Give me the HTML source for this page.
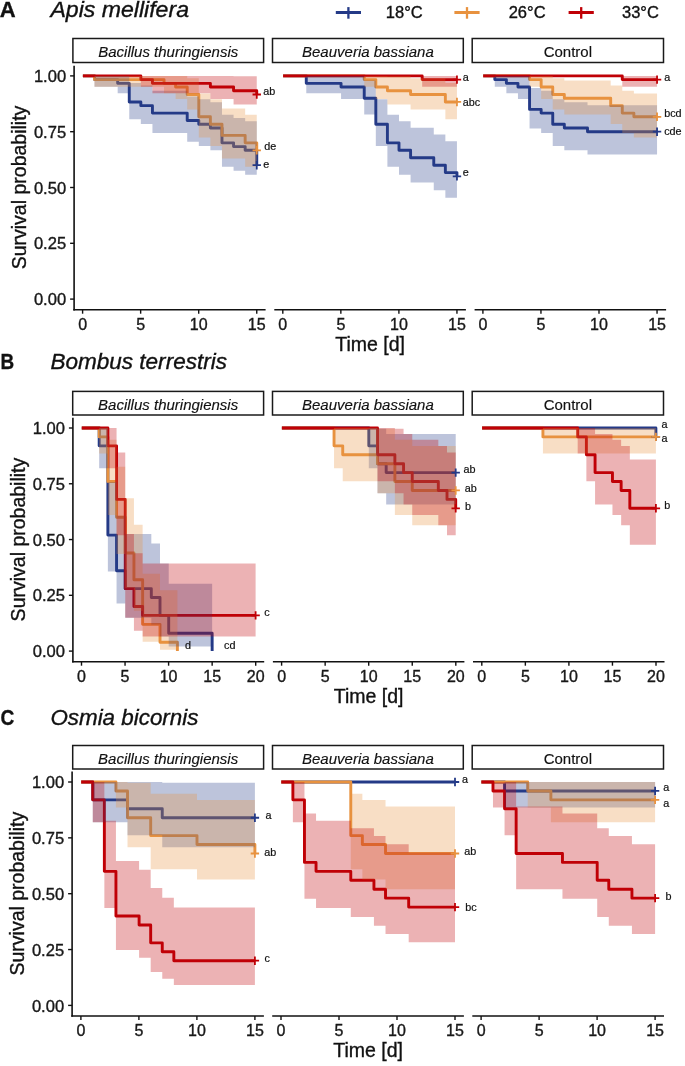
<!DOCTYPE html>
<html><head><meta charset="utf-8"><style>
html,body{margin:0;padding:0;background:#fff;}
svg{display:block;font-family:"Liberation Sans",sans-serif;will-change:transform;}
text{stroke:currentColor;stroke-width:0.35px;}
.t{color:#1a1a1a;fill:#1a1a1a;}
</style></head><body>
<svg width="685" height="1066" viewBox="0 0 685 1066" color="#111" fill="#111">
<rect width="685" height="1066" fill="#fff"/>
<path d="M82.9 75.9 L94.49 75.9 L94.49 79.62 L117.67 79.62 L117.67 83.34 L129.26 83.34 L129.26 101.94 L140.85 101.94 L140.85 105.66 L152.44 105.66 L152.44 113.1 L187.21 113.1 L187.21 120.54 L198.8 120.54 L198.8 124.26 L210.39 124.26 L210.39 127.98 L221.98 127.98 L221.98 142.86 L233.57 142.86 L233.57 146.58 L245.16 146.58 L245.16 150.3 L256.75 150.3 L256.75 165.18" fill="none" stroke="#243a87" stroke-width="2.9" stroke-linejoin="round"/>
<path d="M82.9 75.9 L94.49 75.9 L94.49 79.62 L164.03 79.62 L164.03 83.34 L175.62 83.34 L175.62 87.06 L187.21 87.06 L187.21 94.5 L198.8 94.5 L198.8 116.82 L210.39 116.82 L210.39 124.26 L221.98 124.26 L221.98 135.42 L245.16 135.42 L245.16 142.86 L256.75 142.86 L256.75 150.3" fill="none" stroke="#e8923f" stroke-width="2.9" stroke-linejoin="round"/>
<path d="M82.9 75.9 L140.85 75.9 L140.85 79.62 L152.44 79.62 L152.44 83.34 L210.39 83.34 L210.39 87.06 L233.57 87.06 L233.57 90.78 L256.75 90.78 L256.75 94.5" fill="none" stroke="#c00006" stroke-width="2.9" stroke-linejoin="round"/>
<path d="M94.49 75.9 L117.67 75.9 L117.67 75.9 L129.26 75.9 L129.26 82.95 L140.85 82.95 L140.85 85.48 L152.44 85.48 L152.44 90.82 L187.21 90.82 L187.21 96.46 L198.8 96.46 L198.8 99.37 L210.39 99.37 L210.39 102.35 L221.98 102.35 L221.98 114.71 L233.57 114.71 L233.57 117.91 L245.16 117.91 L245.16 121.15 L256.75 121.15 L256.75 174.68 L245.16 174.68 L245.16 170.71 L233.57 170.71 L233.57 166.71 L221.98 166.71 L221.98 150.27 L210.39 150.27 L210.39 146.05 L198.8 146.05 L198.8 141.76 L187.21 141.76 L187.21 133 L152.44 133 L152.44 123.94 L140.85 123.94 L140.85 119.26 L129.26 119.26 L129.26 93.24 L117.67 93.24 L117.67 86.73 L94.49 86.73Z" fill="#243a87" fill-opacity="0.3"/>
<path d="M94.49 75.9 L164.03 75.9 L164.03 75.9 L175.62 75.9 L175.62 75.9 L187.21 75.9 L187.21 78.28 L198.8 78.28 L198.8 93.6 L210.39 93.6 L210.39 99.37 L221.98 99.37 L221.98 108.44 L245.16 108.44 L245.16 114.71 L256.75 114.71 L256.75 166.71 L245.16 166.71 L245.16 158.58 L221.98 158.58 L221.98 146.05 L210.39 146.05 L210.39 137.41 L198.8 137.41 L198.8 109.53 L187.21 109.53 L187.21 99.02 L175.62 99.02 L175.62 93.24 L164.03 93.24 L164.03 86.73 L94.49 86.73Z" fill="#e8923f" fill-opacity="0.3"/>
<path d="M140.85 75.9 L152.44 75.9 L152.44 75.9 L210.39 75.9 L210.39 75.9 L233.57 75.9 L233.57 76.21 L256.75 76.21 L256.75 104.4 L233.57 104.4 L233.57 99.02 L210.39 99.02 L210.39 93.24 L152.44 93.24 L152.44 86.73 L140.85 86.73Z" fill="#c00006" fill-opacity="0.3"/>
<path d="M252.55 165.18 H260.95 M256.75 160.98 V169.38" stroke="#243a87" stroke-width="1.8" fill="none"/>
<path d="M252.55 150.3 H260.95 M256.75 146.1 V154.5" stroke="#e8923f" stroke-width="1.8" fill="none"/>
<path d="M252.55 94.5 H260.95 M256.75 90.3 V98.7" stroke="#c00006" stroke-width="1.8" fill="none"/>
<path d="M283.1 75.9 L306.28 75.9 L306.28 83.34 L341.05 83.34 L341.05 87.06 L364.23 87.06 L364.23 98.22 L375.82 98.22 L375.82 124.26 L387.41 124.26 L387.41 142.86 L399 142.86 L399 150.3 L410.59 150.3 L410.59 157.74 L433.77 157.74 L433.77 165.18 L445.36 165.18 L445.36 172.62 L456.95 172.62 L456.95 176.34" fill="none" stroke="#243a87" stroke-width="2.9" stroke-linejoin="round"/>
<path d="M283.1 75.9 L364.23 75.9 L364.23 79.62 L375.82 79.62 L375.82 87.06 L387.41 87.06 L387.41 90.78 L410.59 90.78 L410.59 94.5 L445.36 94.5 L445.36 101.94 L456.95 101.94" fill="none" stroke="#e8923f" stroke-width="2.9" stroke-linejoin="round"/>
<path d="M283.1 75.9 L422.18 75.9 L422.18 79.62 L456.95 79.62" fill="none" stroke="#c00006" stroke-width="2.9" stroke-linejoin="round"/>
<path d="M306.28 75.9 L341.05 75.9 L341.05 75.9 L364.23 75.9 L364.23 80.54 L375.82 80.54 L375.82 99.37 L387.41 99.37 L387.41 114.71 L399 114.71 L399 121.15 L410.59 121.15 L410.59 127.73 L433.77 127.73 L433.77 134.45 L445.36 134.45 L445.36 141.3 L456.95 141.3 L456.95 197.73 L445.36 197.73 L445.36 190.18 L433.77 190.18 L433.77 182.5 L410.59 182.5 L410.59 174.68 L399 174.68 L399 166.71 L387.41 166.71 L387.41 146.05 L375.82 146.05 L375.82 114.47 L364.23 114.47 L364.23 99.02 L341.05 99.02 L341.05 93.24 L306.28 93.24Z" fill="#243a87" fill-opacity="0.3"/>
<path d="M364.23 75.9 L375.82 75.9 L375.82 75.9 L387.41 75.9 L387.41 76.21 L410.59 76.21 L410.59 78.28 L445.36 78.28 L445.36 82.95 L456.95 82.95 L456.95 119.26 L445.36 119.26 L445.36 109.53 L410.59 109.53 L410.59 104.4 L387.41 104.4 L387.41 99.02 L375.82 99.02 L375.82 86.73 L364.23 86.73Z" fill="#e8923f" fill-opacity="0.3"/>
<path d="M422.18 75.9 L456.95 75.9 L456.95 86.73 L422.18 86.73Z" fill="#c00006" fill-opacity="0.3"/>
<path d="M452.75 176.34 H461.15 M456.95 172.14 V180.54" stroke="#243a87" stroke-width="1.8" fill="none"/>
<path d="M452.75 101.94 H461.15 M456.95 97.74 V106.14" stroke="#e8923f" stroke-width="1.8" fill="none"/>
<path d="M452.75 79.62 H461.15 M456.95 75.42 V83.82" stroke="#c00006" stroke-width="1.8" fill="none"/>
<path d="M483.2 75.9 L494.79 75.9 L494.79 79.62 L506.38 79.62 L506.38 83.34 L517.97 83.34 L517.97 87.06 L529.56 87.06 L529.56 109.38 L541.15 109.38 L541.15 113.1 L552.74 113.1 L552.74 124.26 L564.33 124.26 L564.33 127.98 L587.51 127.98 L587.51 131.7 L657.05 131.7" fill="none" stroke="#243a87" stroke-width="2.9" stroke-linejoin="round"/>
<path d="M483.2 75.9 L529.56 75.9 L529.56 79.62 L541.15 79.62 L541.15 87.06 L552.74 87.06 L552.74 94.5 L564.33 94.5 L564.33 98.22 L610.69 98.22 L610.69 105.66 L622.28 105.66 L622.28 113.1 L633.87 113.1 L633.87 116.82 L657.05 116.82" fill="none" stroke="#e8923f" stroke-width="2.9" stroke-linejoin="round"/>
<path d="M483.2 75.9 L622.28 75.9 L622.28 79.62 L657.05 79.62" fill="none" stroke="#c00006" stroke-width="2.9" stroke-linejoin="round"/>
<path d="M494.79 75.9 L506.38 75.9 L506.38 75.9 L517.97 75.9 L517.97 75.9 L529.56 75.9 L529.56 88.1 L541.15 88.1 L541.15 90.82 L552.74 90.82 L552.74 99.37 L564.33 99.37 L564.33 102.35 L587.51 102.35 L587.51 105.37 L657.05 105.37 L657.05 154.45 L587.51 154.45 L587.51 150.27 L564.33 150.27 L564.33 146.05 L552.74 146.05 L552.74 133 L541.15 133 L541.15 128.51 L529.56 128.51 L529.56 99.02 L517.97 99.02 L517.97 93.24 L506.38 93.24 L506.38 86.73 L494.79 86.73Z" fill="#243a87" fill-opacity="0.3"/>
<path d="M529.56 75.9 L541.15 75.9 L541.15 75.9 L552.74 75.9 L552.74 78.28 L564.33 78.28 L564.33 80.54 L610.69 80.54 L610.69 85.48 L622.28 85.48 L622.28 90.82 L633.87 90.82 L633.87 93.6 L657.05 93.6 L657.05 137.41 L633.87 137.41 L633.87 133 L622.28 133 L622.28 123.94 L610.69 123.94 L610.69 114.47 L564.33 114.47 L564.33 109.53 L552.74 109.53 L552.74 99.02 L541.15 99.02 L541.15 86.73 L529.56 86.73Z" fill="#e8923f" fill-opacity="0.3"/>
<path d="M622.28 75.9 L657.05 75.9 L657.05 86.73 L622.28 86.73Z" fill="#c00006" fill-opacity="0.3"/>
<path d="M652.85 131.7 H661.25 M657.05 127.5 V135.9" stroke="#243a87" stroke-width="1.8" fill="none"/>
<path d="M652.85 116.82 H661.25 M657.05 112.62 V121.02" stroke="#e8923f" stroke-width="1.8" fill="none"/>
<path d="M652.85 79.62 H661.25 M657.05 75.42 V83.82" stroke="#c00006" stroke-width="1.8" fill="none"/>
<path d="M81.8 428 L99.18 428 L99.18 445.85 L107.87 445.85 L107.87 535.09 L116.56 535.09 L116.56 570.78 L125.25 570.78 L125.25 588.63 L151.32 588.63 L151.32 597.56 L160.01 597.56 L160.01 615.4 L168.7 615.4 L168.7 633.25 L212.15 633.25 L212.15 651.1" fill="none" stroke="#243a87" stroke-width="2.9" stroke-linejoin="round"/>
<path d="M81.8 428 L99.18 428 L99.18 436.92 L107.87 436.92 L107.87 481.54 L116.56 481.54 L116.56 517.24 L125.25 517.24 L125.25 552.94 L133.94 552.94 L133.94 579.71 L142.63 579.71 L142.63 624.33 L160.01 624.33 L160.01 642.18 L177.39 642.18 L177.39 651.1" fill="none" stroke="#e8923f" stroke-width="2.9" stroke-linejoin="round"/>
<path d="M81.8 428 L107.87 428 L107.87 445.85 L116.56 445.85 L116.56 499.39 L125.25 499.39 L125.25 588.63 L133.94 588.63 L133.94 606.48 L142.63 606.48 L142.63 615.4 L255.6 615.4" fill="none" stroke="#c00006" stroke-width="2.9" stroke-linejoin="round"/>
<path d="M99.18 428 L107.87 428 L107.87 482.03 L116.56 482.03 L116.56 515.65 L125.25 515.65 L125.25 533.98 L151.32 533.98 L151.32 543.54 L160.01 543.54 L160.01 563.46 L168.7 563.46 L168.7 583.66 L212.15 583.66 L212.15 646.38 L168.7 646.38 L168.7 636.56 L160.01 636.56 L160.01 624.45 L151.32 624.45 L151.32 617.78 L125.25 617.78 L125.25 603.48 L116.56 603.48 L116.56 571.49 L107.87 571.49 L107.87 468.25 L99.18 468.25Z" fill="#243a87" fill-opacity="0.3"/>
<path d="M99.18 428 L107.87 428 L107.87 439.76 L116.56 439.76 L116.56 466.75 L125.25 466.75 L125.25 498.34 L133.94 498.34 L133.94 524.68 L142.63 524.68 L142.63 573.71 L160.01 573.71 L160.01 590.21 L177.39 590.21 L177.39 649.79 L160.01 649.79 L160.01 641.84 L142.63 641.84 L142.63 610.78 L133.94 610.78 L133.94 588.02 L125.25 588.02 L125.25 553.9 L116.56 553.9 L116.56 515.07 L107.87 515.07 L107.87 453.39 L99.18 453.39Z" fill="#e8923f" fill-opacity="0.3"/>
<path d="M107.87 428 L116.56 428 L116.56 452.59 L125.25 452.59 L125.25 533.98 L133.94 533.98 L133.94 553.37 L142.63 553.37 L142.63 563.46 L255.6 563.46 L255.6 636.56 L142.63 636.56 L142.63 630.73 L133.94 630.73 L133.94 617.78 L125.25 617.78 L125.25 535.16 L116.56 535.16 L116.56 468.25 L107.87 468.25Z" fill="#c00006" fill-opacity="0.3"/>
<path d="M251.4 615.4 H259.8 M255.6 611.2 V619.6" stroke="#c00006" stroke-width="1.8" fill="none"/>
<path d="M281.9 428 L368.8 428 L368.8 445.85 L377.49 445.85 L377.49 463.7 L386.18 463.7 L386.18 472.62 L455.7 472.62" fill="none" stroke="#243a87" stroke-width="2.9" stroke-linejoin="round"/>
<path d="M281.9 428 L334.04 428 L334.04 445.85 L342.73 445.85 L342.73 454.77 L377.49 454.77 L377.49 463.7 L394.87 463.7 L394.87 481.54 L412.25 481.54 L412.25 490.47 L455.7 490.47" fill="none" stroke="#e8923f" stroke-width="2.9" stroke-linejoin="round"/>
<path d="M281.9 428 L377.49 428 L377.49 454.77 L394.87 454.77 L394.87 463.7 L403.56 463.7 L403.56 472.62 L412.25 472.62 L412.25 481.54 L438.32 481.54 L438.32 490.47 L447.01 490.47 L447.01 499.39 L455.7 499.39 L455.7 508.32" fill="none" stroke="#c00006" stroke-width="2.9" stroke-linejoin="round"/>
<path d="M368.8 428 L377.49 428 L377.49 428.73 L386.18 428.73 L386.18 433.98 L455.7 433.98 L455.7 504.39 L386.18 504.39 L386.18 493.16 L377.49 493.16 L377.49 468.25 L368.8 468.25Z" fill="#243a87" fill-opacity="0.3"/>
<path d="M334.04 428 L342.73 428 L342.73 428 L377.49 428 L377.49 428.73 L394.87 428.73 L394.87 439.76 L412.25 439.76 L412.25 445.99 L455.7 445.99 L455.7 525.3 L412.25 525.3 L412.25 515.07 L394.87 515.07 L394.87 493.16 L377.49 493.16 L377.49 481.23 L342.73 481.23 L342.73 468.25 L334.04 468.25Z" fill="#e8923f" fill-opacity="0.3"/>
<path d="M377.49 428 L394.87 428 L394.87 428.73 L403.56 428.73 L403.56 433.98 L412.25 433.98 L412.25 439.76 L438.32 439.76 L438.32 445.99 L447.01 445.99 L447.01 452.59 L455.7 452.59 L455.7 535.16 L447.01 535.16 L447.01 525.3 L438.32 525.3 L438.32 515.07 L412.25 515.07 L412.25 504.39 L403.56 504.39 L403.56 493.16 L394.87 493.16 L394.87 481.23 L377.49 481.23Z" fill="#c00006" fill-opacity="0.3"/>
<path d="M451.5 472.62 H459.9 M455.7 468.42 V476.82" stroke="#243a87" stroke-width="1.8" fill="none"/>
<path d="M451.5 490.47 H459.9 M455.7 486.27 V494.67" stroke="#e8923f" stroke-width="1.8" fill="none"/>
<path d="M451.5 508.32 H459.9 M455.7 504.12 V512.52" stroke="#c00006" stroke-width="1.8" fill="none"/>
<path d="M482.1 428 L655.9 428 L655.9 436.92" fill="none" stroke="#243a87" stroke-width="2.9" stroke-linejoin="round"/>
<path d="M482.1 428 L542.93 428 L542.93 436.92 L655.9 436.92" fill="none" stroke="#e8923f" stroke-width="2.9" stroke-linejoin="round"/>
<path d="M482.1 428 L577.69 428 L577.69 436.92 L586.38 436.92 L586.38 454.77 L595.07 454.77 L595.07 472.62 L612.45 472.62 L612.45 481.54 L621.14 481.54 L621.14 490.47 L629.83 490.47 L629.83 508.32 L655.9 508.32" fill="none" stroke="#c00006" stroke-width="2.9" stroke-linejoin="round"/>
<path d="M542.93 428 L655.9 428 L655.9 453.39 L542.93 453.39Z" fill="#e8923f" fill-opacity="0.3"/>
<path d="M577.69 428 L586.38 428 L586.38 428 L595.07 428 L595.07 433.98 L612.45 433.98 L612.45 439.76 L621.14 439.76 L621.14 445.99 L629.83 445.99 L629.83 459.52 L655.9 459.52 L655.9 544.69 L629.83 544.69 L629.83 525.3 L621.14 525.3 L621.14 515.07 L612.45 515.07 L612.45 504.39 L595.07 504.39 L595.07 481.23 L586.38 481.23 L586.38 453.39 L577.69 453.39Z" fill="#c00006" fill-opacity="0.3"/>
<path d="M651.7 436.92 H660.1 M655.9 432.72 V441.12" stroke="#243a87" stroke-width="1.8" fill="none"/>
<path d="M651.7 436.92 H660.1 M655.9 432.72 V441.12" stroke="#e8923f" stroke-width="1.8" fill="none"/>
<path d="M651.7 508.32 H660.1 M655.9 504.12 V512.52" stroke="#c00006" stroke-width="1.8" fill="none"/>
<path d="M81.2 782 L92.78 782 L92.78 799.87 L127.52 799.87 L127.52 808.81 L162.26 808.81 L162.26 817.74 L254.9 817.74" fill="none" stroke="#243a87" stroke-width="2.9" stroke-linejoin="round"/>
<path d="M81.2 782 L115.94 782 L115.94 790.94 L127.52 790.94 L127.52 817.74 L150.68 817.74 L150.68 835.62 L197 835.62 L197 844.55 L254.9 844.55 L254.9 853.49" fill="none" stroke="#e8923f" stroke-width="2.9" stroke-linejoin="round"/>
<path d="M81.2 782 L92.78 782 L92.78 799.87 L104.36 799.87 L104.36 871.36 L115.94 871.36 L115.94 916.04 L139.1 916.04 L139.1 924.98 L150.68 924.98 L150.68 942.85 L162.26 942.85 L162.26 951.78 L173.84 951.78 L173.84 960.72 L254.9 960.72" fill="none" stroke="#c00006" stroke-width="2.9" stroke-linejoin="round"/>
<path d="M92.78 782 L127.52 782 L127.52 782 L162.26 782 L162.26 782.73 L254.9 782.73 L254.9 847.25 L162.26 847.25 L162.26 835.3 L127.52 835.3 L127.52 822.31 L92.78 822.31Z" fill="#243a87" fill-opacity="0.3"/>
<path d="M115.94 782 L127.52 782 L127.52 782.73 L150.68 782.73 L150.68 793.78 L197 793.78 L197 800.01 L254.9 800.01 L254.9 879.43 L197 879.43 L197 869.18 L150.68 869.18 L150.68 847.25 L127.52 847.25 L127.52 807.43 L115.94 807.43Z" fill="#e8923f" fill-opacity="0.3"/>
<path d="M92.78 782 L104.36 782 L104.36 820.8 L115.94 820.8 L115.94 860.97 L139.1 860.97 L139.1 869.76 L150.68 869.76 L150.68 888.12 L162.26 888.12 L162.26 897.69 L173.84 897.69 L173.84 907.54 L254.9 907.54 L254.9 985 L173.84 985 L173.84 978.71 L162.26 978.71 L162.26 972.04 L150.68 972.04 L150.68 957.71 L139.1 957.71 L139.1 950.11 L115.94 950.11 L115.94 908.07 L104.36 908.07 L104.36 822.31 L92.78 822.31Z" fill="#c00006" fill-opacity="0.3"/>
<path d="M250.7 817.74 H259.1 M254.9 813.54 V821.94" stroke="#243a87" stroke-width="1.8" fill="none"/>
<path d="M250.7 853.49 H259.1 M254.9 849.29 V857.69" stroke="#e8923f" stroke-width="1.8" fill="none"/>
<path d="M250.7 960.72 H259.1 M254.9 956.52 V964.92" stroke="#c00006" stroke-width="1.8" fill="none"/>
<path d="M281.3 782 L455 782" fill="none" stroke="#243a87" stroke-width="2.9" stroke-linejoin="round"/>
<path d="M281.3 782 L350.78 782 L350.78 835.62 L362.36 835.62 L362.36 844.55 L385.52 844.55 L385.52 853.49 L455 853.49" fill="none" stroke="#e8923f" stroke-width="2.9" stroke-linejoin="round"/>
<path d="M281.3 782 L292.88 782 L292.88 799.87 L304.46 799.87 L304.46 862.42 L316.04 862.42 L316.04 871.36 L350.78 871.36 L350.78 880.3 L373.94 880.3 L373.94 889.23 L385.52 889.23 L385.52 898.17 L408.68 898.17 L408.68 907.1 L455 907.1" fill="none" stroke="#c00006" stroke-width="2.9" stroke-linejoin="round"/>
<path d="M350.78 793.78 L362.36 793.78 L362.36 800.01 L385.52 800.01 L385.52 806.62 L455 806.62 L455 889.31 L385.52 889.31 L385.52 879.43 L362.36 879.43 L362.36 869.18 L350.78 869.18Z" fill="#e8923f" fill-opacity="0.3"/>
<path d="M292.88 782 L304.46 782 L304.46 813.56 L316.04 813.56 L316.04 820.8 L350.78 820.8 L350.78 828.32 L373.94 828.32 L373.94 836.1 L385.52 836.1 L385.52 844.14 L408.68 844.14 L408.68 852.43 L455 852.43 L455 942.23 L408.68 942.23 L408.68 934.09 L385.52 934.09 L385.52 925.69 L373.94 925.69 L373.94 917.02 L350.78 917.02 L350.78 908.07 L316.04 908.07 L316.04 898.84 L304.46 898.84 L304.46 822.31 L292.88 822.31Z" fill="#c00006" fill-opacity="0.3"/>
<path d="M450.8 782 H459.2 M455 777.8 V786.2" stroke="#243a87" stroke-width="1.8" fill="none"/>
<path d="M450.8 853.49 H459.2 M455 849.29 V857.69" stroke="#e8923f" stroke-width="1.8" fill="none"/>
<path d="M450.8 907.1 H459.2 M455 902.9 V911.3" stroke="#c00006" stroke-width="1.8" fill="none"/>
<path d="M481.4 782 L504.56 782 L504.56 790.94 L655.1 790.94" fill="none" stroke="#243a87" stroke-width="2.9" stroke-linejoin="round"/>
<path d="M481.4 782 L527.72 782 L527.72 790.94 L550.88 790.94 L550.88 799.87 L655.1 799.87" fill="none" stroke="#e8923f" stroke-width="2.9" stroke-linejoin="round"/>
<path d="M481.4 782 L492.98 782 L492.98 790.94 L504.56 790.94 L504.56 808.81 L516.14 808.81 L516.14 853.49 L562.46 853.49 L562.46 862.42 L597.2 862.42 L597.2 880.3 L608.78 880.3 L608.78 889.23 L631.94 889.23 L631.94 898.17 L655.1 898.17" fill="none" stroke="#c00006" stroke-width="2.9" stroke-linejoin="round"/>
<path d="M504.56 782 L655.1 782 L655.1 807.43 L504.56 807.43Z" fill="#243a87" fill-opacity="0.3"/>
<path d="M527.72 782 L550.88 782 L550.88 782 L655.1 782 L655.1 822.31 L550.88 822.31 L550.88 807.43 L527.72 807.43Z" fill="#e8923f" fill-opacity="0.3"/>
<path d="M492.98 782 L504.56 782 L504.56 782 L516.14 782 L516.14 806.62 L562.46 806.62 L562.46 813.56 L597.2 813.56 L597.2 828.32 L608.78 828.32 L608.78 836.1 L631.94 836.1 L631.94 844.14 L655.1 844.14 L655.1 934.09 L631.94 934.09 L631.94 925.69 L608.78 925.69 L608.78 917.02 L597.2 917.02 L597.2 898.84 L562.46 898.84 L562.46 889.31 L516.14 889.31 L516.14 835.3 L504.56 835.3 L504.56 807.43 L492.98 807.43Z" fill="#c00006" fill-opacity="0.3"/>
<path d="M650.9 790.94 H659.3 M655.1 786.74 V795.14" stroke="#243a87" stroke-width="1.8" fill="none"/>
<path d="M650.9 799.87 H659.3 M655.1 795.67 V804.07" stroke="#e8923f" stroke-width="1.8" fill="none"/>
<path d="M650.9 898.17 H659.3 M655.1 893.97 V902.37" stroke="#c00006" stroke-width="1.8" fill="none"/>
<text transform="translate(-0.3 17.1) scale(1.0 1)" font-weight="bold" font-size="22">A</text>
<text x="50.4" y="16.8" font-style="italic" font-size="22" textLength="138.6" lengthAdjust="spacingAndGlyphs">Apis mellifera</text>
<rect x="72.9" y="38.5" width="190.7" height="24" fill="#fff" stroke="#1a1a1a" stroke-width="1.5"/>
<text x="168.25" y="57" font-size="15" text-anchor="middle" style="stroke-width:0.15px" font-style="italic">Bacillus thuringiensis</text>
<rect x="272.5" y="38.5" width="190.8" height="24" fill="#fff" stroke="#1a1a1a" stroke-width="1.5"/>
<text x="367.9" y="57" font-size="15" text-anchor="middle" style="stroke-width:0.15px" font-style="italic">Beauveria bassiana</text>
<rect x="472.2" y="38.5" width="191.3" height="24" fill="#fff" stroke="#1a1a1a" stroke-width="1.5"/>
<text x="567.85" y="57" font-size="15" text-anchor="middle" style="stroke-width:0.15px">Control</text>
<line x1="74.1" y1="65.8" x2="74.1" y2="310.5" stroke="#111" stroke-width="1.6"/>
<line x1="70.1" y1="299.1" x2="74.1" y2="299.1" stroke="#111" stroke-width="1.4"/>
<text x="66.1" y="305.2" font-size="16" text-anchor="end" fill="#1a1a1a" textLength="32.2" lengthAdjust="spacingAndGlyphs">0.00</text>
<line x1="70.1" y1="243.3" x2="74.1" y2="243.3" stroke="#111" stroke-width="1.4"/>
<text x="66.1" y="249.4" font-size="16" text-anchor="end" fill="#1a1a1a" textLength="32.2" lengthAdjust="spacingAndGlyphs">0.25</text>
<line x1="70.1" y1="187.5" x2="74.1" y2="187.5" stroke="#111" stroke-width="1.4"/>
<text x="66.1" y="193.6" font-size="16" text-anchor="end" fill="#1a1a1a" textLength="32.2" lengthAdjust="spacingAndGlyphs">0.50</text>
<line x1="70.1" y1="131.7" x2="74.1" y2="131.7" stroke="#111" stroke-width="1.4"/>
<text x="66.1" y="137.8" font-size="16" text-anchor="end" fill="#1a1a1a" textLength="32.2" lengthAdjust="spacingAndGlyphs">0.75</text>
<line x1="70.1" y1="75.9" x2="74.1" y2="75.9" stroke="#111" stroke-width="1.4"/>
<text x="66.1" y="82" font-size="16" text-anchor="end" fill="#1a1a1a" textLength="32.2" lengthAdjust="spacingAndGlyphs">1.00</text>
<text transform="translate(25.6 187.5) rotate(-90)" font-size="19.5" text-anchor="middle">Survival probability</text>
<line x1="73.3" y1="309.7" x2="265.6" y2="309.7" stroke="#111" stroke-width="1.6"/>
<line x1="82.6" y1="309.7" x2="82.6" y2="313.7" stroke="#111" stroke-width="1.4"/>
<text x="82.6" y="330" font-size="16" text-anchor="middle" fill="#1a1a1a">0</text>
<line x1="140.65" y1="309.7" x2="140.65" y2="313.7" stroke="#111" stroke-width="1.4"/>
<text x="140.65" y="330" font-size="16" text-anchor="middle" fill="#1a1a1a">5</text>
<line x1="198.7" y1="309.7" x2="198.7" y2="313.7" stroke="#111" stroke-width="1.4"/>
<text x="198.7" y="330" font-size="16" text-anchor="middle" fill="#1a1a1a">10</text>
<line x1="256.75" y1="309.7" x2="256.75" y2="313.7" stroke="#111" stroke-width="1.4"/>
<text x="256.75" y="330" font-size="16" text-anchor="middle" fill="#1a1a1a">15</text>
<line x1="274.3" y1="309.7" x2="465.9" y2="309.7" stroke="#111" stroke-width="1.6"/>
<line x1="282.8" y1="309.7" x2="282.8" y2="313.7" stroke="#111" stroke-width="1.4"/>
<text x="282.8" y="330" font-size="16" text-anchor="middle" fill="#1a1a1a">0</text>
<line x1="340.85" y1="309.7" x2="340.85" y2="313.7" stroke="#111" stroke-width="1.4"/>
<text x="340.85" y="330" font-size="16" text-anchor="middle" fill="#1a1a1a">5</text>
<line x1="398.9" y1="309.7" x2="398.9" y2="313.7" stroke="#111" stroke-width="1.4"/>
<text x="398.9" y="330" font-size="16" text-anchor="middle" fill="#1a1a1a">10</text>
<line x1="456.95" y1="309.7" x2="456.95" y2="313.7" stroke="#111" stroke-width="1.4"/>
<text x="456.95" y="330" font-size="16" text-anchor="middle" fill="#1a1a1a">15</text>
<line x1="474.6" y1="309.7" x2="666.1" y2="309.7" stroke="#111" stroke-width="1.6"/>
<line x1="482.9" y1="309.7" x2="482.9" y2="313.7" stroke="#111" stroke-width="1.4"/>
<text x="482.9" y="330" font-size="16" text-anchor="middle" fill="#1a1a1a">0</text>
<line x1="540.95" y1="309.7" x2="540.95" y2="313.7" stroke="#111" stroke-width="1.4"/>
<text x="540.95" y="330" font-size="16" text-anchor="middle" fill="#1a1a1a">5</text>
<line x1="599" y1="309.7" x2="599" y2="313.7" stroke="#111" stroke-width="1.4"/>
<text x="599" y="330" font-size="16" text-anchor="middle" fill="#1a1a1a">10</text>
<line x1="657.05" y1="309.7" x2="657.05" y2="313.7" stroke="#111" stroke-width="1.4"/>
<text x="657.05" y="330" font-size="16" text-anchor="middle" fill="#1a1a1a">15</text>
<text x="370.1" y="350.6" font-size="19.5" text-anchor="middle">Time [d]</text>
<text transform="translate(0.6 369.3) scale(0.86 1)" font-weight="bold" font-size="22">B</text>
<text x="50.4" y="369.0" font-style="italic" font-size="22" textLength="176.6" lengthAdjust="spacingAndGlyphs">Bombus terrestris</text>
<rect x="72.7" y="391.4" width="190.9" height="23.6" fill="#fff" stroke="#1a1a1a" stroke-width="1.5"/>
<text x="168.15" y="409.5" font-size="15" text-anchor="middle" style="stroke-width:0.15px" font-style="italic">Bacillus thuringiensis</text>
<rect x="272.5" y="391.4" width="190.8" height="23.6" fill="#fff" stroke="#1a1a1a" stroke-width="1.5"/>
<text x="367.9" y="409.5" font-size="15" text-anchor="middle" style="stroke-width:0.15px" font-style="italic">Beauveria bassiana</text>
<rect x="472.2" y="391.4" width="191.3" height="23.6" fill="#fff" stroke="#1a1a1a" stroke-width="1.5"/>
<text x="567.85" y="409.5" font-size="15" text-anchor="middle" style="stroke-width:0.15px">Control</text>
<line x1="72.9" y1="417.7" x2="72.9" y2="662.5" stroke="#111" stroke-width="1.6"/>
<line x1="68.9" y1="651.1" x2="72.9" y2="651.1" stroke="#111" stroke-width="1.4"/>
<text x="64.9" y="657.2" font-size="16" text-anchor="end" fill="#1a1a1a" textLength="32.2" lengthAdjust="spacingAndGlyphs">0.00</text>
<line x1="68.9" y1="595.33" x2="72.9" y2="595.33" stroke="#111" stroke-width="1.4"/>
<text x="64.9" y="601.43" font-size="16" text-anchor="end" fill="#1a1a1a" textLength="32.2" lengthAdjust="spacingAndGlyphs">0.25</text>
<line x1="68.9" y1="539.55" x2="72.9" y2="539.55" stroke="#111" stroke-width="1.4"/>
<text x="64.9" y="545.65" font-size="16" text-anchor="end" fill="#1a1a1a" textLength="32.2" lengthAdjust="spacingAndGlyphs">0.50</text>
<line x1="68.9" y1="483.77" x2="72.9" y2="483.77" stroke="#111" stroke-width="1.4"/>
<text x="64.9" y="489.88" font-size="16" text-anchor="end" fill="#1a1a1a" textLength="32.2" lengthAdjust="spacingAndGlyphs">0.75</text>
<line x1="68.9" y1="428" x2="72.9" y2="428" stroke="#111" stroke-width="1.4"/>
<text x="64.9" y="434.1" font-size="16" text-anchor="end" fill="#1a1a1a" textLength="32.2" lengthAdjust="spacingAndGlyphs">1.00</text>
<text transform="translate(24.5 539.55) rotate(-90)" font-size="19.5" text-anchor="middle">Survival probability</text>
<line x1="72.1" y1="661.7" x2="264.2" y2="661.7" stroke="#111" stroke-width="1.6"/>
<line x1="81.5" y1="661.7" x2="81.5" y2="665.7" stroke="#111" stroke-width="1.4"/>
<text x="81.5" y="682" font-size="16" text-anchor="middle" fill="#1a1a1a">0</text>
<line x1="125.05" y1="661.7" x2="125.05" y2="665.7" stroke="#111" stroke-width="1.4"/>
<text x="125.05" y="682" font-size="16" text-anchor="middle" fill="#1a1a1a">5</text>
<line x1="168.6" y1="661.7" x2="168.6" y2="665.7" stroke="#111" stroke-width="1.4"/>
<text x="168.6" y="682" font-size="16" text-anchor="middle" fill="#1a1a1a">10</text>
<line x1="212.15" y1="661.7" x2="212.15" y2="665.7" stroke="#111" stroke-width="1.4"/>
<text x="212.15" y="682" font-size="16" text-anchor="middle" fill="#1a1a1a">15</text>
<line x1="255.7" y1="661.7" x2="255.7" y2="665.7" stroke="#111" stroke-width="1.4"/>
<text x="255.7" y="682" font-size="16" text-anchor="middle" fill="#1a1a1a">20</text>
<line x1="272.9" y1="661.7" x2="464.4" y2="661.7" stroke="#111" stroke-width="1.6"/>
<line x1="281.6" y1="661.7" x2="281.6" y2="665.7" stroke="#111" stroke-width="1.4"/>
<text x="281.6" y="682" font-size="16" text-anchor="middle" fill="#1a1a1a">0</text>
<line x1="325.15" y1="661.7" x2="325.15" y2="665.7" stroke="#111" stroke-width="1.4"/>
<text x="325.15" y="682" font-size="16" text-anchor="middle" fill="#1a1a1a">5</text>
<line x1="368.7" y1="661.7" x2="368.7" y2="665.7" stroke="#111" stroke-width="1.4"/>
<text x="368.7" y="682" font-size="16" text-anchor="middle" fill="#1a1a1a">10</text>
<line x1="412.25" y1="661.7" x2="412.25" y2="665.7" stroke="#111" stroke-width="1.4"/>
<text x="412.25" y="682" font-size="16" text-anchor="middle" fill="#1a1a1a">15</text>
<line x1="455.8" y1="661.7" x2="455.8" y2="665.7" stroke="#111" stroke-width="1.4"/>
<text x="455.8" y="682" font-size="16" text-anchor="middle" fill="#1a1a1a">20</text>
<line x1="473" y1="661.7" x2="664.5" y2="661.7" stroke="#111" stroke-width="1.6"/>
<line x1="481.8" y1="661.7" x2="481.8" y2="665.7" stroke="#111" stroke-width="1.4"/>
<text x="481.8" y="682" font-size="16" text-anchor="middle" fill="#1a1a1a">0</text>
<line x1="525.35" y1="661.7" x2="525.35" y2="665.7" stroke="#111" stroke-width="1.4"/>
<text x="525.35" y="682" font-size="16" text-anchor="middle" fill="#1a1a1a">5</text>
<line x1="568.9" y1="661.7" x2="568.9" y2="665.7" stroke="#111" stroke-width="1.4"/>
<text x="568.9" y="682" font-size="16" text-anchor="middle" fill="#1a1a1a">10</text>
<line x1="612.45" y1="661.7" x2="612.45" y2="665.7" stroke="#111" stroke-width="1.4"/>
<text x="612.45" y="682" font-size="16" text-anchor="middle" fill="#1a1a1a">15</text>
<line x1="656" y1="661.7" x2="656" y2="665.7" stroke="#111" stroke-width="1.4"/>
<text x="656" y="682" font-size="16" text-anchor="middle" fill="#1a1a1a">20</text>
<text x="368.7" y="703" font-size="19.5" text-anchor="middle">Time [d]</text>
<text transform="translate(0.6 725.3) scale(0.87 1)" font-weight="bold" font-size="22">C</text>
<text x="50.4" y="725.0" font-style="italic" font-size="22" textLength="148.0" lengthAdjust="spacingAndGlyphs">Osmia bicornis</text>
<rect x="72.7" y="745.5" width="190.9" height="23.5" fill="#fff" stroke="#1a1a1a" stroke-width="1.5"/>
<text x="168.15" y="763.5" font-size="15" text-anchor="middle" style="stroke-width:0.15px" font-style="italic">Bacillus thuringiensis</text>
<rect x="272.5" y="745.5" width="190.8" height="23.5" fill="#fff" stroke="#1a1a1a" stroke-width="1.5"/>
<text x="367.9" y="763.5" font-size="15" text-anchor="middle" style="stroke-width:0.15px" font-style="italic">Beauveria bassiana</text>
<rect x="472.2" y="745.5" width="191.3" height="23.5" fill="#fff" stroke="#1a1a1a" stroke-width="1.5"/>
<text x="567.85" y="763.5" font-size="15" text-anchor="middle" style="stroke-width:0.15px">Control</text>
<line x1="72.1" y1="771.5" x2="72.1" y2="1016.8" stroke="#111" stroke-width="1.6"/>
<line x1="68.1" y1="1005.4" x2="72.1" y2="1005.4" stroke="#111" stroke-width="1.4"/>
<text x="64.1" y="1011.5" font-size="16" text-anchor="end" fill="#1a1a1a" textLength="32.2" lengthAdjust="spacingAndGlyphs">0.00</text>
<line x1="68.1" y1="949.55" x2="72.1" y2="949.55" stroke="#111" stroke-width="1.4"/>
<text x="64.1" y="955.65" font-size="16" text-anchor="end" fill="#1a1a1a" textLength="32.2" lengthAdjust="spacingAndGlyphs">0.25</text>
<line x1="68.1" y1="893.7" x2="72.1" y2="893.7" stroke="#111" stroke-width="1.4"/>
<text x="64.1" y="899.8" font-size="16" text-anchor="end" fill="#1a1a1a" textLength="32.2" lengthAdjust="spacingAndGlyphs">0.50</text>
<line x1="68.1" y1="837.85" x2="72.1" y2="837.85" stroke="#111" stroke-width="1.4"/>
<text x="64.1" y="843.95" font-size="16" text-anchor="end" fill="#1a1a1a" textLength="32.2" lengthAdjust="spacingAndGlyphs">0.75</text>
<line x1="68.1" y1="782" x2="72.1" y2="782" stroke="#111" stroke-width="1.4"/>
<text x="64.1" y="788.1" font-size="16" text-anchor="end" fill="#1a1a1a" textLength="32.2" lengthAdjust="spacingAndGlyphs">1.00</text>
<text transform="translate(24.3 893.7) rotate(-90)" font-size="19.5" text-anchor="middle">Survival probability</text>
<line x1="71.3" y1="1016" x2="263.9" y2="1016" stroke="#111" stroke-width="1.6"/>
<line x1="80.9" y1="1016" x2="80.9" y2="1020" stroke="#111" stroke-width="1.4"/>
<text x="80.9" y="1036" font-size="16" text-anchor="middle" fill="#1a1a1a">0</text>
<line x1="138.9" y1="1016" x2="138.9" y2="1020" stroke="#111" stroke-width="1.4"/>
<text x="138.9" y="1036" font-size="16" text-anchor="middle" fill="#1a1a1a">5</text>
<line x1="196.9" y1="1016" x2="196.9" y2="1020" stroke="#111" stroke-width="1.4"/>
<text x="196.9" y="1036" font-size="16" text-anchor="middle" fill="#1a1a1a">10</text>
<line x1="254.9" y1="1016" x2="254.9" y2="1020" stroke="#111" stroke-width="1.4"/>
<text x="254.9" y="1036" font-size="16" text-anchor="middle" fill="#1a1a1a">15</text>
<line x1="272.2" y1="1016" x2="463.9" y2="1016" stroke="#111" stroke-width="1.6"/>
<line x1="281" y1="1016" x2="281" y2="1020" stroke="#111" stroke-width="1.4"/>
<text x="281" y="1036" font-size="16" text-anchor="middle" fill="#1a1a1a">0</text>
<line x1="339" y1="1016" x2="339" y2="1020" stroke="#111" stroke-width="1.4"/>
<text x="339" y="1036" font-size="16" text-anchor="middle" fill="#1a1a1a">5</text>
<line x1="397" y1="1016" x2="397" y2="1020" stroke="#111" stroke-width="1.4"/>
<text x="397" y="1036" font-size="16" text-anchor="middle" fill="#1a1a1a">10</text>
<line x1="455" y1="1016" x2="455" y2="1020" stroke="#111" stroke-width="1.4"/>
<text x="455" y="1036" font-size="16" text-anchor="middle" fill="#1a1a1a">15</text>
<line x1="472.3" y1="1016" x2="664" y2="1016" stroke="#111" stroke-width="1.6"/>
<line x1="481.1" y1="1016" x2="481.1" y2="1020" stroke="#111" stroke-width="1.4"/>
<text x="481.1" y="1036" font-size="16" text-anchor="middle" fill="#1a1a1a">0</text>
<line x1="539.1" y1="1016" x2="539.1" y2="1020" stroke="#111" stroke-width="1.4"/>
<text x="539.1" y="1036" font-size="16" text-anchor="middle" fill="#1a1a1a">5</text>
<line x1="597.1" y1="1016" x2="597.1" y2="1020" stroke="#111" stroke-width="1.4"/>
<text x="597.1" y="1036" font-size="16" text-anchor="middle" fill="#1a1a1a">10</text>
<line x1="655.1" y1="1016" x2="655.1" y2="1020" stroke="#111" stroke-width="1.4"/>
<text x="655.1" y="1036" font-size="16" text-anchor="middle" fill="#1a1a1a">15</text>
<text x="368.05" y="1057.3" font-size="19.5" text-anchor="middle">Time [d]</text>
<path d="M335.8 12.5 H361" stroke="#243a87" stroke-width="3" fill="none"/><path d="M348.4 7.1 V18.7" stroke="#243a87" stroke-width="2.3" fill="none"/>
<text x="385.8" y="18" font-size="16.5">18°C</text>
<path d="M454.4 12.5 H479.6" stroke="#e8923f" stroke-width="3" fill="none"/><path d="M467 7.1 V18.7" stroke="#e8923f" stroke-width="2.3" fill="none"/>
<text x="508.7" y="18" font-size="16.5">26°C</text>
<path d="M568.6 12.5 H593.8" stroke="#c00006" stroke-width="3" fill="none"/><path d="M581.2 7.1 V18.7" stroke="#c00006" stroke-width="2.3" fill="none"/>
<text x="622" y="18" font-size="16.5">33°C</text>
<text x="263.3" y="94.7" font-size="10.8" fill="#111" style="stroke-width:0.2px">ab</text>
<text x="264.2" y="149.5" font-size="10.8" fill="#111" style="stroke-width:0.2px">de</text>
<text x="263.3" y="168.2" font-size="10.8" fill="#111" style="stroke-width:0.2px">e</text>
<text x="462.7" y="80.6" font-size="10.8" fill="#111" style="stroke-width:0.2px">a</text>
<text x="462.7" y="105.6" font-size="10.8" fill="#111" style="stroke-width:0.2px">abc</text>
<text x="462.7" y="176.2" font-size="10.8" fill="#111" style="stroke-width:0.2px">e</text>
<text x="664.2" y="80.5" font-size="10.8" fill="#111" style="stroke-width:0.2px">a</text>
<text x="664.2" y="117.3" font-size="10.8" fill="#111" style="stroke-width:0.2px">bcd</text>
<text x="664.2" y="135.4" font-size="10.8" fill="#111" style="stroke-width:0.2px">cde</text>
<text x="264.2" y="616.1" font-size="10.8" fill="#111" style="stroke-width:0.2px">c</text>
<text x="185.1" y="648.5" font-size="10.8" fill="#111" style="stroke-width:0.2px">d</text>
<text x="224.1" y="648.5" font-size="10.8" fill="#111" style="stroke-width:0.2px">cd</text>
<text x="463.6" y="473" font-size="10.8" fill="#111" style="stroke-width:0.2px">ab</text>
<text x="464.7" y="491.5" font-size="10.8" fill="#111" style="stroke-width:0.2px">ab</text>
<text x="465" y="510.2" font-size="10.8" fill="#111" style="stroke-width:0.2px">b</text>
<text x="661.5" y="428.4" font-size="10.8" fill="#111" style="stroke-width:0.2px">a</text>
<text x="661.5" y="442" font-size="10.8" fill="#111" style="stroke-width:0.2px">a</text>
<text x="664.3" y="509.3" font-size="10.8" fill="#111" style="stroke-width:0.2px">b</text>
<text x="265.4" y="819.4" font-size="10.8" fill="#111" style="stroke-width:0.2px">a</text>
<text x="264.2" y="855.8" font-size="10.8" fill="#111" style="stroke-width:0.2px">ab</text>
<text x="264.4" y="961.7" font-size="10.8" fill="#111" style="stroke-width:0.2px">c</text>
<text x="462.1" y="783" font-size="10.8" fill="#111" style="stroke-width:0.2px">a</text>
<text x="464.2" y="855.2" font-size="10.8" fill="#111" style="stroke-width:0.2px">ab</text>
<text x="465.3" y="910.6" font-size="10.8" fill="#111" style="stroke-width:0.2px">bc</text>
<text x="663.2" y="790.8" font-size="10.8" fill="#111" style="stroke-width:0.2px">a</text>
<text x="663.2" y="806.6" font-size="10.8" fill="#111" style="stroke-width:0.2px">a</text>
<text x="665.4" y="900.1" font-size="10.8" fill="#111" style="stroke-width:0.2px">b</text>
</svg></body></html>
